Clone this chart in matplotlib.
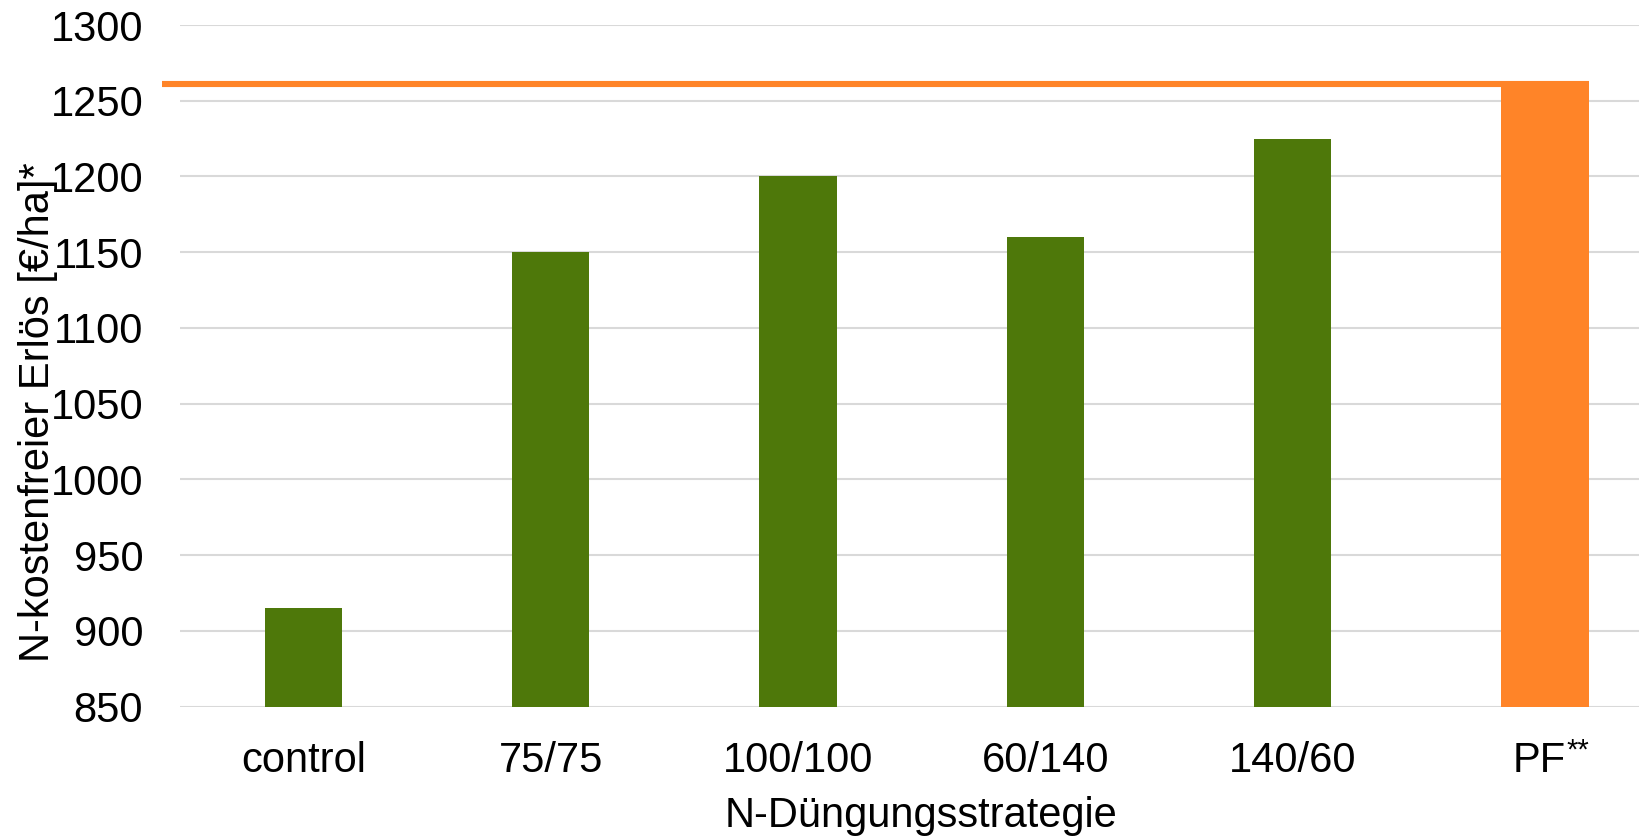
import matplotlib
matplotlib.use("Agg")
import matplotlib.pyplot as plt

# Net revenue after nitrogen costs per fertilisation strategy
categories = ["control", "75/75", "100/100", "60/140", "140/60", "PF"]
strategy_values = [915, 1150, 1200, 1160, 1225]   # conventional N strategies
pf_value = 1263                                   # precision farming result
pf_level = 1261                                   # reference level drawn across the chart
y_ticks = [850, 900, 950, 1000, 1050, 1100, 1150, 1200, 1250, 1300]

GREEN = "#4E780A"
ORANGE = "#FF8428"
GRID = "#D9D9D9"

plt.rcParams["font.family"] = ["Liberation Sans", "DejaVu Sans"]

W, H, DPI = 1640, 838, 100
fig = plt.figure(figsize=(W / DPI, H / DPI), dpi=DPI)

# axes box in pixel terms: left 180, bottom 706.7, top 25, six categories of 247.2 px
left_px, top_px, bottom_px, cat_px = 180, 25, 706.7, 247.2
ax = fig.add_axes([left_px / W, 1 - bottom_px / H,
                   len(categories) * cat_px / W, (bottom_px - top_px) / H])

x = list(range(len(categories)))
bar_w = 0.312
ax.bar(x[:len(strategy_values)], [v - y_ticks[0] for v in strategy_values],
       bottom=y_ticks[0], width=bar_w, color=GREEN, zorder=3)

# PF bar: starts where the green bar would start, somewhat wider
pf_w = 0.356
pf_left = x[-1] - bar_w / 2
ax.bar(pf_left, pf_value - y_ticks[0], bottom=y_ticks[0], width=pf_w,
       align="edge", color=ORANGE, zorder=3)

# horizontal PF reference line
x0 = -0.5 - 18 / cat_px
x1 = pf_left + pf_w
ax.plot([x0, x1], [pf_level, pf_level], color=ORANGE, lw=4.4,
        solid_capstyle="butt", clip_on=False, zorder=4)

ax.set_xlim(-0.5, len(categories) - 0.5)
ax.set_ylim(y_ticks[0], y_ticks[-1])
ax.set_yticks(y_ticks)
ax.set_yticklabels([str(t) for t in y_ticks])
ax.set_xticks(x)
ax.set_xticklabels(categories)

ax.yaxis.grid(True, color=GRID, lw=1.5)
ax.set_axisbelow(True)
for s in ax.spines.values():
    s.set_visible(False)
ax.tick_params(axis="both", length=0, labelsize=30, colors="black")
ax.tick_params(axis="y", pad=26.5)
ax.tick_params(axis="x", pad=25)

# superscript marks after "PF"
ax.annotate("**", xy=(x[-1], 0), xycoords=("data", "axes fraction"),
            xytext=(27, -52), textcoords="offset pixels",
            ha="left", va="baseline", fontsize=21, annotation_clip=False)

# axis titles
fig.text(49 / W, 1 - 412 / H, "N-kostenfreier Erlös [€/ha]*", rotation=90,
         rotation_mode="anchor", ha="center", va="baseline", fontsize=30)
fig.text(921 / W, 1 - 826.7 / H, "N-Düngungsstrategie",
         ha="center", va="baseline", fontsize=30)

fig.savefig("out.png", dpi=DPI)
